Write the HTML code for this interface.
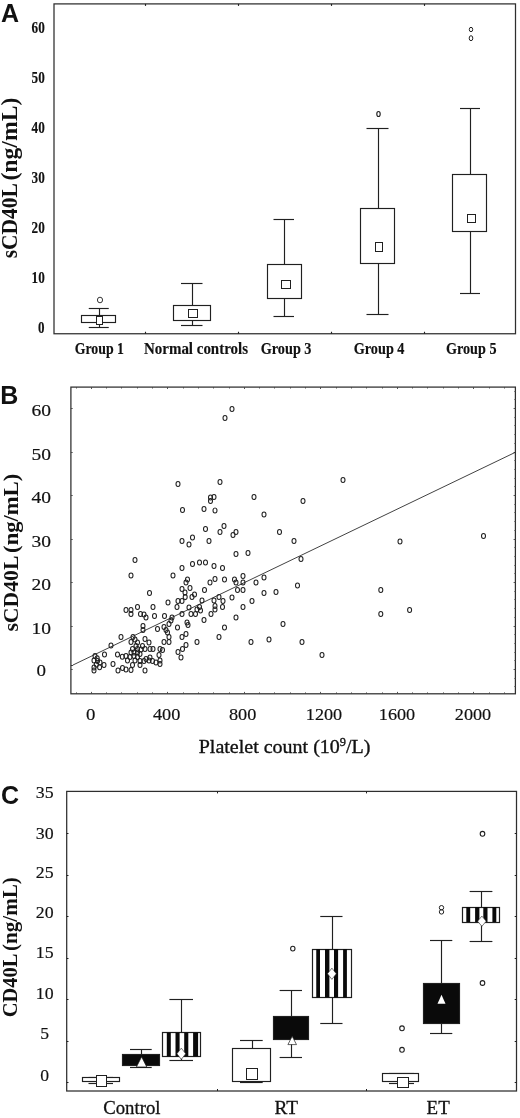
<!DOCTYPE html>
<html><head><meta charset="utf-8"><title>Figure</title>
<style>
html,body{margin:0;padding:0;background:#fff;}
body{width:520px;height:1118px;overflow:hidden;font-family:"Liberation Serif",serif;}
svg{display:block;will-change:transform;}
</style></head><body>
<svg width="520" height="1118" viewBox="0 0 520 1118">
<rect x="0" y="0" width="520" height="1118" fill="#ffffff"/>
<rect x="54.00" y="3.90" width="461.50" height="329.85" fill="none" stroke="#2e2e2e" stroke-width="1.25"/>
<text x="1.00" y="21.90" font-family="'Liberation Sans', sans-serif" font-size="25" font-weight="bold" text-anchor="start" letter-spacing="0" fill="#111" >A</text>
<text x="31.60" y="33.10" font-family="'Liberation Serif', serif" font-size="16.3" font-weight="bold" textLength="13.20" lengthAdjust="spacingAndGlyphs" fill="#111" stroke="#111" stroke-width="0.15">60</text>
<text x="31.60" y="83.10" font-family="'Liberation Serif', serif" font-size="16.3" font-weight="bold" textLength="13.20" lengthAdjust="spacingAndGlyphs" fill="#111" stroke="#111" stroke-width="0.15">50</text>
<text x="31.60" y="133.10" font-family="'Liberation Serif', serif" font-size="16.3" font-weight="bold" textLength="13.20" lengthAdjust="spacingAndGlyphs" fill="#111" stroke="#111" stroke-width="0.15">40</text>
<text x="31.60" y="183.10" font-family="'Liberation Serif', serif" font-size="16.3" font-weight="bold" textLength="13.20" lengthAdjust="spacingAndGlyphs" fill="#111" stroke="#111" stroke-width="0.15">30</text>
<text x="31.60" y="233.10" font-family="'Liberation Serif', serif" font-size="16.3" font-weight="bold" textLength="13.20" lengthAdjust="spacingAndGlyphs" fill="#111" stroke="#111" stroke-width="0.15">20</text>
<text x="31.60" y="283.10" font-family="'Liberation Serif', serif" font-size="16.3" font-weight="bold" textLength="13.20" lengthAdjust="spacingAndGlyphs" fill="#111" stroke="#111" stroke-width="0.15">10</text>
<text x="38.10" y="333.10" font-family="'Liberation Serif', serif" font-size="16.3" font-weight="bold" textLength="6.50" lengthAdjust="spacingAndGlyphs" fill="#111" stroke="#111" stroke-width="0.15">0</text>
<text transform="translate(16.50,258.30) rotate(-90)" font-family="'Liberation Serif', serif" font-size="22.5" font-weight="bold" textLength="75.10" lengthAdjust="spacingAndGlyphs" fill="#111">sCD40L</text>
<text transform="translate(16.50,180.60) rotate(-90)" font-family="'Liberation Serif', serif" font-size="22.5" font-weight="bold" textLength="83.00" lengthAdjust="spacingAndGlyphs" fill="#111">(ng/mL)</text>
<line x1="145.50" y1="331.75" x2="145.50" y2="333.75" stroke="#202020" stroke-width="1.15"/>
<line x1="145.50" y1="3.90" x2="145.50" y2="5.90" stroke="#202020" stroke-width="1.15"/>
<line x1="238.50" y1="331.75" x2="238.50" y2="333.75" stroke="#202020" stroke-width="1.15"/>
<line x1="238.50" y1="3.90" x2="238.50" y2="5.90" stroke="#202020" stroke-width="1.15"/>
<line x1="331.50" y1="331.75" x2="331.50" y2="333.75" stroke="#202020" stroke-width="1.15"/>
<line x1="331.50" y1="3.90" x2="331.50" y2="5.90" stroke="#202020" stroke-width="1.15"/>
<line x1="424.50" y1="331.75" x2="424.50" y2="333.75" stroke="#202020" stroke-width="1.15"/>
<line x1="424.50" y1="3.90" x2="424.50" y2="5.90" stroke="#202020" stroke-width="1.15"/>
<line x1="99.50" y1="308.75" x2="99.50" y2="315.00" stroke="#202020" stroke-width="1.15"/>
<line x1="99.50" y1="322.00" x2="99.50" y2="327.00" stroke="#202020" stroke-width="1.15"/>
<line x1="88.75" y1="308.50" x2="108.75" y2="308.50" stroke="#202020" stroke-width="1.15"/>
<line x1="88.75" y1="327.50" x2="108.75" y2="327.50" stroke="#202020" stroke-width="1.15"/>
<rect x="81.50" y="315.50" width="34.00" height="7.00" fill="#fff" stroke="#202020" stroke-width="1.15"/>
<rect x="96.50" y="316.50" width="6.00" height="8.00" fill="#fff" stroke="#202020" stroke-width="1.0"/>
<ellipse cx="100.00" cy="300.00" rx="2.6" ry="2.8" fill="none" stroke="#202020" stroke-width="0.9"/>
<line x1="192.50" y1="283.50" x2="192.50" y2="305.00" stroke="#202020" stroke-width="1.15"/>
<line x1="192.50" y1="320.00" x2="192.50" y2="325.50" stroke="#202020" stroke-width="1.15"/>
<line x1="181.00" y1="283.50" x2="202.50" y2="283.50" stroke="#202020" stroke-width="1.15"/>
<line x1="181.00" y1="325.50" x2="202.50" y2="325.50" stroke="#202020" stroke-width="1.15"/>
<rect x="173.50" y="305.50" width="37.00" height="15.00" fill="#fff" stroke="#202020" stroke-width="1.15"/>
<rect x="188.50" y="309.50" width="9.00" height="8.00" fill="#fff" stroke="#202020" stroke-width="1.0"/>
<line x1="284.50" y1="219.00" x2="284.50" y2="264.00" stroke="#202020" stroke-width="1.15"/>
<line x1="284.50" y1="298.50" x2="284.50" y2="316.00" stroke="#202020" stroke-width="1.15"/>
<line x1="273.50" y1="219.50" x2="294.00" y2="219.50" stroke="#202020" stroke-width="1.15"/>
<line x1="273.50" y1="316.50" x2="294.00" y2="316.50" stroke="#202020" stroke-width="1.15"/>
<rect x="267.50" y="264.50" width="34.00" height="34.00" fill="#fff" stroke="#202020" stroke-width="1.15"/>
<rect x="281.50" y="280.50" width="9.00" height="8.00" fill="#fff" stroke="#202020" stroke-width="1.0"/>
<line x1="378.50" y1="128.50" x2="378.50" y2="208.00" stroke="#202020" stroke-width="1.15"/>
<line x1="378.50" y1="263.00" x2="378.50" y2="314.50" stroke="#202020" stroke-width="1.15"/>
<line x1="366.50" y1="128.50" x2="388.50" y2="128.50" stroke="#202020" stroke-width="1.15"/>
<line x1="366.50" y1="314.50" x2="388.50" y2="314.50" stroke="#202020" stroke-width="1.15"/>
<rect x="360.50" y="208.50" width="34.00" height="55.00" fill="#fff" stroke="#202020" stroke-width="1.15"/>
<rect x="375.50" y="242.50" width="7.00" height="9.00" fill="#fff" stroke="#202020" stroke-width="1.0"/>
<ellipse cx="378.50" cy="114.00" rx="1.7" ry="2.5" fill="none" stroke="#202020" stroke-width="1.15"/>
<line x1="470.50" y1="108.50" x2="470.50" y2="174.00" stroke="#202020" stroke-width="1.15"/>
<line x1="470.50" y1="231.50" x2="470.50" y2="293.50" stroke="#202020" stroke-width="1.15"/>
<line x1="460.00" y1="108.50" x2="480.00" y2="108.50" stroke="#202020" stroke-width="1.15"/>
<line x1="460.00" y1="293.50" x2="480.00" y2="293.50" stroke="#202020" stroke-width="1.15"/>
<rect x="452.50" y="174.50" width="34.00" height="57.00" fill="#fff" stroke="#202020" stroke-width="1.15"/>
<rect x="467.50" y="214.50" width="8.00" height="8.00" fill="#fff" stroke="#202020" stroke-width="1.0"/>
<ellipse cx="471.00" cy="29.50" rx="1.7" ry="2.2" fill="none" stroke="#202020" stroke-width="1.0"/>
<ellipse cx="471.00" cy="38.20" rx="1.8" ry="2.5" fill="none" stroke="#202020" stroke-width="1.0"/>
<text x="74.70" y="354.20" font-family="'Liberation Serif', serif" font-size="16" font-weight="bold" textLength="49.30" lengthAdjust="spacingAndGlyphs" fill="#111" stroke="#111" stroke-width="0.15">Group 1</text>
<text x="144.00" y="354.20" font-family="'Liberation Serif', serif" font-size="16" font-weight="bold" textLength="104.00" lengthAdjust="spacingAndGlyphs" fill="#111" stroke="#111" stroke-width="0.15">Normal controls</text>
<text x="260.70" y="354.20" font-family="'Liberation Serif', serif" font-size="16" font-weight="bold" textLength="50.80" lengthAdjust="spacingAndGlyphs" fill="#111" stroke="#111" stroke-width="0.15">Group 3</text>
<text x="353.70" y="354.20" font-family="'Liberation Serif', serif" font-size="16" font-weight="bold" textLength="50.80" lengthAdjust="spacingAndGlyphs" fill="#111" stroke="#111" stroke-width="0.15">Group 4</text>
<text x="446.00" y="354.20" font-family="'Liberation Serif', serif" font-size="16" font-weight="bold" textLength="50.50" lengthAdjust="spacingAndGlyphs" fill="#111" stroke="#111" stroke-width="0.15">Group 5</text>
<rect x="70.90" y="387.10" width="444.50" height="306.70" fill="none" stroke="#2e2e2e" stroke-width="1.25"/>
<text x="0.20" y="403.75" font-family="'Liberation Sans', sans-serif" font-size="25" font-weight="bold" text-anchor="start" letter-spacing="0" fill="#111" >B</text>
<text x="31.50" y="416.00" font-family="'Liberation Serif', serif" font-size="17.5" font-weight="normal" textLength="19.50" lengthAdjust="spacingAndGlyphs" fill="#111" stroke="#111" stroke-width="0.18">60</text>
<line x1="70.90" y1="408.50" x2="72.70" y2="408.50" stroke="#444" stroke-width="0.9"/>
<line x1="513.60" y1="408.50" x2="515.40" y2="408.50" stroke="#444" stroke-width="0.9"/>
<text x="31.50" y="459.50" font-family="'Liberation Serif', serif" font-size="17.5" font-weight="normal" textLength="19.50" lengthAdjust="spacingAndGlyphs" fill="#111" stroke="#111" stroke-width="0.18">50</text>
<line x1="70.90" y1="452.50" x2="72.70" y2="452.50" stroke="#444" stroke-width="0.9"/>
<line x1="513.60" y1="452.50" x2="515.40" y2="452.50" stroke="#444" stroke-width="0.9"/>
<text x="31.50" y="503.00" font-family="'Liberation Serif', serif" font-size="17.5" font-weight="normal" textLength="19.50" lengthAdjust="spacingAndGlyphs" fill="#111" stroke="#111" stroke-width="0.18">40</text>
<line x1="70.90" y1="495.50" x2="72.70" y2="495.50" stroke="#444" stroke-width="0.9"/>
<line x1="513.60" y1="495.50" x2="515.40" y2="495.50" stroke="#444" stroke-width="0.9"/>
<text x="31.50" y="546.50" font-family="'Liberation Serif', serif" font-size="17.5" font-weight="normal" textLength="19.50" lengthAdjust="spacingAndGlyphs" fill="#111" stroke="#111" stroke-width="0.18">30</text>
<line x1="70.90" y1="539.50" x2="72.70" y2="539.50" stroke="#444" stroke-width="0.9"/>
<line x1="513.60" y1="539.50" x2="515.40" y2="539.50" stroke="#444" stroke-width="0.9"/>
<text x="31.50" y="590.00" font-family="'Liberation Serif', serif" font-size="17.5" font-weight="normal" textLength="19.50" lengthAdjust="spacingAndGlyphs" fill="#111" stroke="#111" stroke-width="0.18">20</text>
<line x1="70.90" y1="582.50" x2="72.70" y2="582.50" stroke="#444" stroke-width="0.9"/>
<line x1="513.60" y1="582.50" x2="515.40" y2="582.50" stroke="#444" stroke-width="0.9"/>
<text x="31.50" y="633.50" font-family="'Liberation Serif', serif" font-size="17.5" font-weight="normal" textLength="19.50" lengthAdjust="spacingAndGlyphs" fill="#111" stroke="#111" stroke-width="0.18">10</text>
<line x1="70.90" y1="626.50" x2="72.70" y2="626.50" stroke="#444" stroke-width="0.9"/>
<line x1="513.60" y1="626.50" x2="515.40" y2="626.50" stroke="#444" stroke-width="0.9"/>
<text x="36.40" y="676.10" font-family="'Liberation Serif', serif" font-size="17.5" font-weight="normal" textLength="9.50" lengthAdjust="spacingAndGlyphs" fill="#111" stroke="#111" stroke-width="0.18">0</text>
<line x1="70.90" y1="669.50" x2="72.70" y2="669.50" stroke="#444" stroke-width="0.9"/>
<line x1="513.60" y1="669.50" x2="515.40" y2="669.50" stroke="#444" stroke-width="0.9"/>
<line x1="514.20" y1="686.50" x2="515.40" y2="686.50" stroke="#555" stroke-width="0.8"/>
<line x1="514.20" y1="678.50" x2="515.40" y2="678.50" stroke="#555" stroke-width="0.8"/>
<line x1="514.20" y1="660.50" x2="515.40" y2="660.50" stroke="#555" stroke-width="0.8"/>
<line x1="514.20" y1="652.50" x2="515.40" y2="652.50" stroke="#555" stroke-width="0.8"/>
<line x1="514.20" y1="643.50" x2="515.40" y2="643.50" stroke="#555" stroke-width="0.8"/>
<line x1="514.20" y1="634.50" x2="515.40" y2="634.50" stroke="#555" stroke-width="0.8"/>
<line x1="514.20" y1="617.50" x2="515.40" y2="617.50" stroke="#555" stroke-width="0.8"/>
<line x1="514.20" y1="608.50" x2="515.40" y2="608.50" stroke="#555" stroke-width="0.8"/>
<line x1="514.20" y1="599.50" x2="515.40" y2="599.50" stroke="#555" stroke-width="0.8"/>
<line x1="514.20" y1="591.50" x2="515.40" y2="591.50" stroke="#555" stroke-width="0.8"/>
<line x1="514.20" y1="573.50" x2="515.40" y2="573.50" stroke="#555" stroke-width="0.8"/>
<line x1="514.20" y1="565.50" x2="515.40" y2="565.50" stroke="#555" stroke-width="0.8"/>
<line x1="514.20" y1="556.50" x2="515.40" y2="556.50" stroke="#555" stroke-width="0.8"/>
<line x1="514.20" y1="547.50" x2="515.40" y2="547.50" stroke="#555" stroke-width="0.8"/>
<line x1="514.20" y1="530.50" x2="515.40" y2="530.50" stroke="#555" stroke-width="0.8"/>
<line x1="514.20" y1="521.50" x2="515.40" y2="521.50" stroke="#555" stroke-width="0.8"/>
<line x1="514.20" y1="512.50" x2="515.40" y2="512.50" stroke="#555" stroke-width="0.8"/>
<line x1="514.20" y1="504.50" x2="515.40" y2="504.50" stroke="#555" stroke-width="0.8"/>
<line x1="514.20" y1="486.50" x2="515.40" y2="486.50" stroke="#555" stroke-width="0.8"/>
<line x1="514.20" y1="478.50" x2="515.40" y2="478.50" stroke="#555" stroke-width="0.8"/>
<line x1="514.20" y1="469.50" x2="515.40" y2="469.50" stroke="#555" stroke-width="0.8"/>
<line x1="514.20" y1="460.50" x2="515.40" y2="460.50" stroke="#555" stroke-width="0.8"/>
<line x1="514.20" y1="443.50" x2="515.40" y2="443.50" stroke="#555" stroke-width="0.8"/>
<line x1="514.20" y1="434.50" x2="515.40" y2="434.50" stroke="#555" stroke-width="0.8"/>
<line x1="514.20" y1="425.50" x2="515.40" y2="425.50" stroke="#555" stroke-width="0.8"/>
<line x1="514.20" y1="417.50" x2="515.40" y2="417.50" stroke="#555" stroke-width="0.8"/>
<line x1="514.20" y1="399.50" x2="515.40" y2="399.50" stroke="#555" stroke-width="0.8"/>
<line x1="514.20" y1="391.50" x2="515.40" y2="391.50" stroke="#555" stroke-width="0.8"/>
<text transform="translate(17.50,631.60) rotate(-90)" font-family="'Liberation Serif', serif" font-size="22" font-weight="bold" textLength="76.00" lengthAdjust="spacingAndGlyphs" fill="#111">sCD40L</text>
<text transform="translate(17.50,552.90) rotate(-90)" font-family="'Liberation Serif', serif" font-size="22" font-weight="bold" textLength="79.10" lengthAdjust="spacingAndGlyphs" fill="#111">(ng/mL)</text>
<line x1="91.50" y1="691.90" x2="91.50" y2="693.80" stroke="#444" stroke-width="0.9"/>
<line x1="91.50" y1="387.10" x2="91.50" y2="389.00" stroke="#444" stroke-width="0.9"/>
<line x1="106.50" y1="692.40" x2="106.50" y2="693.80" stroke="#444" stroke-width="0.9"/>
<line x1="106.50" y1="387.10" x2="106.50" y2="388.50" stroke="#444" stroke-width="0.9"/>
<line x1="121.50" y1="692.40" x2="121.50" y2="693.80" stroke="#444" stroke-width="0.9"/>
<line x1="121.50" y1="387.10" x2="121.50" y2="388.50" stroke="#444" stroke-width="0.9"/>
<line x1="137.50" y1="692.40" x2="137.50" y2="693.80" stroke="#444" stroke-width="0.9"/>
<line x1="137.50" y1="387.10" x2="137.50" y2="388.50" stroke="#444" stroke-width="0.9"/>
<line x1="152.50" y1="692.40" x2="152.50" y2="693.80" stroke="#444" stroke-width="0.9"/>
<line x1="152.50" y1="387.10" x2="152.50" y2="388.50" stroke="#444" stroke-width="0.9"/>
<line x1="167.50" y1="691.90" x2="167.50" y2="693.80" stroke="#444" stroke-width="0.9"/>
<line x1="167.50" y1="387.10" x2="167.50" y2="389.00" stroke="#444" stroke-width="0.9"/>
<line x1="183.50" y1="692.40" x2="183.50" y2="693.80" stroke="#444" stroke-width="0.9"/>
<line x1="183.50" y1="387.10" x2="183.50" y2="388.50" stroke="#444" stroke-width="0.9"/>
<line x1="198.50" y1="692.40" x2="198.50" y2="693.80" stroke="#444" stroke-width="0.9"/>
<line x1="198.50" y1="387.10" x2="198.50" y2="388.50" stroke="#444" stroke-width="0.9"/>
<line x1="213.50" y1="692.40" x2="213.50" y2="693.80" stroke="#444" stroke-width="0.9"/>
<line x1="213.50" y1="387.10" x2="213.50" y2="388.50" stroke="#444" stroke-width="0.9"/>
<line x1="229.50" y1="692.40" x2="229.50" y2="693.80" stroke="#444" stroke-width="0.9"/>
<line x1="229.50" y1="387.10" x2="229.50" y2="388.50" stroke="#444" stroke-width="0.9"/>
<line x1="244.50" y1="691.90" x2="244.50" y2="693.80" stroke="#444" stroke-width="0.9"/>
<line x1="244.50" y1="387.10" x2="244.50" y2="389.00" stroke="#444" stroke-width="0.9"/>
<line x1="259.50" y1="692.40" x2="259.50" y2="693.80" stroke="#444" stroke-width="0.9"/>
<line x1="259.50" y1="387.10" x2="259.50" y2="388.50" stroke="#444" stroke-width="0.9"/>
<line x1="274.50" y1="692.40" x2="274.50" y2="693.80" stroke="#444" stroke-width="0.9"/>
<line x1="274.50" y1="387.10" x2="274.50" y2="388.50" stroke="#444" stroke-width="0.9"/>
<line x1="290.50" y1="692.40" x2="290.50" y2="693.80" stroke="#444" stroke-width="0.9"/>
<line x1="290.50" y1="387.10" x2="290.50" y2="388.50" stroke="#444" stroke-width="0.9"/>
<line x1="305.50" y1="692.40" x2="305.50" y2="693.80" stroke="#444" stroke-width="0.9"/>
<line x1="305.50" y1="387.10" x2="305.50" y2="388.50" stroke="#444" stroke-width="0.9"/>
<line x1="320.50" y1="691.90" x2="320.50" y2="693.80" stroke="#444" stroke-width="0.9"/>
<line x1="320.50" y1="387.10" x2="320.50" y2="389.00" stroke="#444" stroke-width="0.9"/>
<line x1="336.50" y1="692.40" x2="336.50" y2="693.80" stroke="#444" stroke-width="0.9"/>
<line x1="336.50" y1="387.10" x2="336.50" y2="388.50" stroke="#444" stroke-width="0.9"/>
<line x1="351.50" y1="692.40" x2="351.50" y2="693.80" stroke="#444" stroke-width="0.9"/>
<line x1="351.50" y1="387.10" x2="351.50" y2="388.50" stroke="#444" stroke-width="0.9"/>
<line x1="366.50" y1="692.40" x2="366.50" y2="693.80" stroke="#444" stroke-width="0.9"/>
<line x1="366.50" y1="387.10" x2="366.50" y2="388.50" stroke="#444" stroke-width="0.9"/>
<line x1="382.50" y1="692.40" x2="382.50" y2="693.80" stroke="#444" stroke-width="0.9"/>
<line x1="382.50" y1="387.10" x2="382.50" y2="388.50" stroke="#444" stroke-width="0.9"/>
<line x1="397.50" y1="691.90" x2="397.50" y2="693.80" stroke="#444" stroke-width="0.9"/>
<line x1="397.50" y1="387.10" x2="397.50" y2="389.00" stroke="#444" stroke-width="0.9"/>
<line x1="412.50" y1="692.40" x2="412.50" y2="693.80" stroke="#444" stroke-width="0.9"/>
<line x1="412.50" y1="387.10" x2="412.50" y2="388.50" stroke="#444" stroke-width="0.9"/>
<line x1="427.50" y1="692.40" x2="427.50" y2="693.80" stroke="#444" stroke-width="0.9"/>
<line x1="427.50" y1="387.10" x2="427.50" y2="388.50" stroke="#444" stroke-width="0.9"/>
<line x1="443.50" y1="692.40" x2="443.50" y2="693.80" stroke="#444" stroke-width="0.9"/>
<line x1="443.50" y1="387.10" x2="443.50" y2="388.50" stroke="#444" stroke-width="0.9"/>
<line x1="458.50" y1="692.40" x2="458.50" y2="693.80" stroke="#444" stroke-width="0.9"/>
<line x1="458.50" y1="387.10" x2="458.50" y2="388.50" stroke="#444" stroke-width="0.9"/>
<line x1="473.50" y1="691.90" x2="473.50" y2="693.80" stroke="#444" stroke-width="0.9"/>
<line x1="473.50" y1="387.10" x2="473.50" y2="389.00" stroke="#444" stroke-width="0.9"/>
<line x1="489.50" y1="692.40" x2="489.50" y2="693.80" stroke="#444" stroke-width="0.9"/>
<line x1="489.50" y1="387.10" x2="489.50" y2="388.50" stroke="#444" stroke-width="0.9"/>
<line x1="504.50" y1="692.40" x2="504.50" y2="693.80" stroke="#444" stroke-width="0.9"/>
<line x1="504.50" y1="387.10" x2="504.50" y2="388.50" stroke="#444" stroke-width="0.9"/>
<line x1="76.50" y1="692.40" x2="76.50" y2="693.80" stroke="#444" stroke-width="0.9"/>
<line x1="76.50" y1="387.10" x2="76.50" y2="388.50" stroke="#444" stroke-width="0.9"/>
<text x="85.90" y="719.90" font-family="'Liberation Serif', serif" font-size="17.5" font-weight="normal" textLength="9.40" lengthAdjust="spacingAndGlyphs" fill="#111" stroke="#111" stroke-width="0.18">0</text>
<text x="152.90" y="719.90" font-family="'Liberation Serif', serif" font-size="17.5" font-weight="normal" textLength="27.40" lengthAdjust="spacingAndGlyphs" fill="#111" stroke="#111" stroke-width="0.18">400</text>
<text x="228.90" y="719.90" font-family="'Liberation Serif', serif" font-size="17.5" font-weight="normal" textLength="27.40" lengthAdjust="spacingAndGlyphs" fill="#111" stroke="#111" stroke-width="0.18">800</text>
<text x="305.80" y="719.90" font-family="'Liberation Serif', serif" font-size="17.5" font-weight="normal" textLength="36.40" lengthAdjust="spacingAndGlyphs" fill="#111" stroke="#111" stroke-width="0.18">1200</text>
<text x="378.80" y="719.90" font-family="'Liberation Serif', serif" font-size="17.5" font-weight="normal" textLength="36.40" lengthAdjust="spacingAndGlyphs" fill="#111" stroke="#111" stroke-width="0.18">1600</text>
<text x="454.80" y="719.90" font-family="'Liberation Serif', serif" font-size="17.5" font-weight="normal" textLength="36.40" lengthAdjust="spacingAndGlyphs" fill="#111" stroke="#111" stroke-width="0.18">2000</text>
<text x="198.70" y="752.50" font-family="'Liberation Serif', serif" font-size="19.5" font-weight="normal" textLength="171.80" lengthAdjust="spacingAndGlyphs" fill="#111" stroke="#111" stroke-width="0.35">Platelet count (10<tspan dy="-6.5" font-size="12">9</tspan><tspan dy="6.5">/L)</tspan></text>
<line x1="73.00" y1="665.00" x2="515.40" y2="452.30" stroke="#202020" stroke-width="0.85"/>
<line x1="70.90" y1="665.50" x2="73.00" y2="665.50" stroke="#202020" stroke-width="0.85"/>
<ellipse cx="149.50" cy="593.00" rx="2.0" ry="2.5" fill="none" stroke="#202020" stroke-width="1.05"/>
<ellipse cx="185.00" cy="592.50" rx="2.0" ry="2.5" fill="none" stroke="#202020" stroke-width="1.05"/>
<ellipse cx="168.00" cy="602.50" rx="2.0" ry="2.5" fill="none" stroke="#202020" stroke-width="1.05"/>
<ellipse cx="178.00" cy="601.00" rx="2.0" ry="2.5" fill="none" stroke="#202020" stroke-width="1.05"/>
<ellipse cx="182.00" cy="601.00" rx="2.0" ry="2.5" fill="none" stroke="#202020" stroke-width="1.05"/>
<ellipse cx="177.00" cy="607.00" rx="2.0" ry="2.5" fill="none" stroke="#202020" stroke-width="1.05"/>
<ellipse cx="137.50" cy="607.00" rx="2.0" ry="2.5" fill="none" stroke="#202020" stroke-width="1.05"/>
<ellipse cx="153.00" cy="607.00" rx="2.0" ry="2.5" fill="none" stroke="#202020" stroke-width="1.05"/>
<ellipse cx="126.00" cy="610.00" rx="2.0" ry="2.5" fill="none" stroke="#202020" stroke-width="1.05"/>
<ellipse cx="131.00" cy="610.00" rx="2.0" ry="2.5" fill="none" stroke="#202020" stroke-width="1.05"/>
<ellipse cx="131.00" cy="614.00" rx="2.0" ry="2.5" fill="none" stroke="#202020" stroke-width="1.05"/>
<ellipse cx="140.50" cy="614.00" rx="2.0" ry="2.5" fill="none" stroke="#202020" stroke-width="1.05"/>
<ellipse cx="144.00" cy="614.50" rx="2.0" ry="2.5" fill="none" stroke="#202020" stroke-width="1.05"/>
<ellipse cx="146.00" cy="617.50" rx="2.0" ry="2.5" fill="none" stroke="#202020" stroke-width="1.05"/>
<ellipse cx="154.50" cy="616.00" rx="2.0" ry="2.5" fill="none" stroke="#202020" stroke-width="1.05"/>
<ellipse cx="164.50" cy="616.00" rx="2.0" ry="2.5" fill="none" stroke="#202020" stroke-width="1.05"/>
<ellipse cx="182.00" cy="614.00" rx="2.0" ry="2.5" fill="none" stroke="#202020" stroke-width="1.05"/>
<ellipse cx="189.00" cy="607.50" rx="2.0" ry="2.5" fill="none" stroke="#202020" stroke-width="1.05"/>
<ellipse cx="172.00" cy="617.50" rx="2.0" ry="2.5" fill="none" stroke="#202020" stroke-width="1.05"/>
<ellipse cx="171.00" cy="620.50" rx="2.0" ry="2.5" fill="none" stroke="#202020" stroke-width="1.05"/>
<ellipse cx="169.00" cy="624.00" rx="2.0" ry="2.5" fill="none" stroke="#202020" stroke-width="1.05"/>
<ellipse cx="187.00" cy="622.50" rx="2.0" ry="2.5" fill="none" stroke="#202020" stroke-width="1.05"/>
<ellipse cx="188.00" cy="625.00" rx="2.0" ry="2.5" fill="none" stroke="#202020" stroke-width="1.05"/>
<ellipse cx="143.00" cy="626.00" rx="2.0" ry="2.5" fill="none" stroke="#202020" stroke-width="1.05"/>
<ellipse cx="143.00" cy="630.00" rx="2.0" ry="2.5" fill="none" stroke="#202020" stroke-width="1.05"/>
<ellipse cx="164.00" cy="627.00" rx="2.0" ry="2.5" fill="none" stroke="#202020" stroke-width="1.05"/>
<ellipse cx="166.00" cy="630.00" rx="2.0" ry="2.5" fill="none" stroke="#202020" stroke-width="1.05"/>
<ellipse cx="157.50" cy="629.00" rx="2.0" ry="2.5" fill="none" stroke="#202020" stroke-width="1.05"/>
<ellipse cx="177.50" cy="627.50" rx="2.0" ry="2.5" fill="none" stroke="#202020" stroke-width="1.05"/>
<ellipse cx="167.50" cy="632.50" rx="2.0" ry="2.5" fill="none" stroke="#202020" stroke-width="1.05"/>
<ellipse cx="169.00" cy="637.00" rx="2.0" ry="2.5" fill="none" stroke="#202020" stroke-width="1.05"/>
<ellipse cx="182.00" cy="637.00" rx="2.0" ry="2.5" fill="none" stroke="#202020" stroke-width="1.05"/>
<ellipse cx="186.00" cy="634.00" rx="2.0" ry="2.5" fill="none" stroke="#202020" stroke-width="1.05"/>
<ellipse cx="121.00" cy="637.00" rx="2.0" ry="2.5" fill="none" stroke="#202020" stroke-width="1.05"/>
<ellipse cx="133.00" cy="637.00" rx="2.0" ry="2.5" fill="none" stroke="#202020" stroke-width="1.05"/>
<ellipse cx="135.00" cy="639.50" rx="2.0" ry="2.5" fill="none" stroke="#202020" stroke-width="1.05"/>
<ellipse cx="131.00" cy="642.00" rx="2.0" ry="2.5" fill="none" stroke="#202020" stroke-width="1.05"/>
<ellipse cx="137.50" cy="642.50" rx="2.0" ry="2.5" fill="none" stroke="#202020" stroke-width="1.05"/>
<ellipse cx="145.00" cy="639.00" rx="2.0" ry="2.5" fill="none" stroke="#202020" stroke-width="1.05"/>
<ellipse cx="149.00" cy="642.50" rx="2.0" ry="2.5" fill="none" stroke="#202020" stroke-width="1.05"/>
<ellipse cx="164.00" cy="642.00" rx="2.0" ry="2.5" fill="none" stroke="#202020" stroke-width="1.05"/>
<ellipse cx="169.00" cy="642.00" rx="2.0" ry="2.5" fill="none" stroke="#202020" stroke-width="1.05"/>
<ellipse cx="111.00" cy="645.50" rx="2.0" ry="2.5" fill="none" stroke="#202020" stroke-width="1.05"/>
<ellipse cx="136.00" cy="646.00" rx="2.0" ry="2.5" fill="none" stroke="#202020" stroke-width="1.05"/>
<ellipse cx="142.50" cy="646.00" rx="2.0" ry="2.5" fill="none" stroke="#202020" stroke-width="1.05"/>
<ellipse cx="132.50" cy="649.00" rx="2.0" ry="2.5" fill="none" stroke="#202020" stroke-width="1.05"/>
<ellipse cx="137.50" cy="649.00" rx="2.0" ry="2.5" fill="none" stroke="#202020" stroke-width="1.05"/>
<ellipse cx="141.00" cy="649.50" rx="2.0" ry="2.5" fill="none" stroke="#202020" stroke-width="1.05"/>
<ellipse cx="145.00" cy="649.00" rx="2.0" ry="2.5" fill="none" stroke="#202020" stroke-width="1.05"/>
<ellipse cx="150.00" cy="649.00" rx="2.0" ry="2.5" fill="none" stroke="#202020" stroke-width="1.05"/>
<ellipse cx="153.00" cy="649.00" rx="2.0" ry="2.5" fill="none" stroke="#202020" stroke-width="1.05"/>
<ellipse cx="160.00" cy="649.00" rx="2.0" ry="2.5" fill="none" stroke="#202020" stroke-width="1.05"/>
<ellipse cx="162.50" cy="650.00" rx="2.0" ry="2.5" fill="none" stroke="#202020" stroke-width="1.05"/>
<ellipse cx="186.00" cy="645.00" rx="2.0" ry="2.5" fill="none" stroke="#202020" stroke-width="1.05"/>
<ellipse cx="182.50" cy="649.00" rx="2.0" ry="2.5" fill="none" stroke="#202020" stroke-width="1.05"/>
<ellipse cx="178.00" cy="652.00" rx="2.0" ry="2.5" fill="none" stroke="#202020" stroke-width="1.05"/>
<ellipse cx="181.00" cy="657.50" rx="2.0" ry="2.5" fill="none" stroke="#202020" stroke-width="1.05"/>
<ellipse cx="95.00" cy="656.00" rx="2.0" ry="2.5" fill="none" stroke="#202020" stroke-width="1.05"/>
<ellipse cx="104.50" cy="654.50" rx="2.0" ry="2.5" fill="none" stroke="#202020" stroke-width="1.05"/>
<ellipse cx="117.50" cy="654.50" rx="2.0" ry="2.5" fill="none" stroke="#202020" stroke-width="1.05"/>
<ellipse cx="131.00" cy="652.50" rx="2.0" ry="2.5" fill="none" stroke="#202020" stroke-width="1.05"/>
<ellipse cx="134.00" cy="652.50" rx="2.0" ry="2.5" fill="none" stroke="#202020" stroke-width="1.05"/>
<ellipse cx="137.50" cy="652.50" rx="2.0" ry="2.5" fill="none" stroke="#202020" stroke-width="1.05"/>
<ellipse cx="140.00" cy="654.00" rx="2.0" ry="2.5" fill="none" stroke="#202020" stroke-width="1.05"/>
<ellipse cx="126.00" cy="656.00" rx="2.0" ry="2.5" fill="none" stroke="#202020" stroke-width="1.05"/>
<ellipse cx="130.00" cy="657.00" rx="2.0" ry="2.5" fill="none" stroke="#202020" stroke-width="1.05"/>
<ellipse cx="134.00" cy="656.00" rx="2.0" ry="2.5" fill="none" stroke="#202020" stroke-width="1.05"/>
<ellipse cx="137.50" cy="657.00" rx="2.0" ry="2.5" fill="none" stroke="#202020" stroke-width="1.05"/>
<ellipse cx="159.00" cy="655.00" rx="2.0" ry="2.5" fill="none" stroke="#202020" stroke-width="1.05"/>
<ellipse cx="150.00" cy="657.50" rx="2.0" ry="2.5" fill="none" stroke="#202020" stroke-width="1.05"/>
<ellipse cx="146.00" cy="659.00" rx="2.0" ry="2.5" fill="none" stroke="#202020" stroke-width="1.05"/>
<ellipse cx="94.00" cy="660.50" rx="2.0" ry="2.5" fill="none" stroke="#202020" stroke-width="1.05"/>
<ellipse cx="97.50" cy="661.00" rx="2.0" ry="2.5" fill="none" stroke="#202020" stroke-width="1.05"/>
<ellipse cx="100.00" cy="662.50" rx="2.0" ry="2.5" fill="none" stroke="#202020" stroke-width="1.05"/>
<ellipse cx="127.50" cy="660.50" rx="2.0" ry="2.5" fill="none" stroke="#202020" stroke-width="1.05"/>
<ellipse cx="135.00" cy="660.50" rx="2.0" ry="2.5" fill="none" stroke="#202020" stroke-width="1.05"/>
<ellipse cx="140.00" cy="661.00" rx="2.0" ry="2.5" fill="none" stroke="#202020" stroke-width="1.05"/>
<ellipse cx="144.00" cy="661.00" rx="2.0" ry="2.5" fill="none" stroke="#202020" stroke-width="1.05"/>
<ellipse cx="149.00" cy="660.50" rx="2.0" ry="2.5" fill="none" stroke="#202020" stroke-width="1.05"/>
<ellipse cx="152.50" cy="661.00" rx="2.0" ry="2.5" fill="none" stroke="#202020" stroke-width="1.05"/>
<ellipse cx="156.00" cy="662.50" rx="2.0" ry="2.5" fill="none" stroke="#202020" stroke-width="1.05"/>
<ellipse cx="160.00" cy="660.50" rx="2.0" ry="2.5" fill="none" stroke="#202020" stroke-width="1.05"/>
<ellipse cx="113.00" cy="664.00" rx="2.0" ry="2.5" fill="none" stroke="#202020" stroke-width="1.05"/>
<ellipse cx="160.00" cy="664.00" rx="2.0" ry="2.5" fill="none" stroke="#202020" stroke-width="1.05"/>
<ellipse cx="104.00" cy="665.00" rx="2.0" ry="2.5" fill="none" stroke="#202020" stroke-width="1.05"/>
<ellipse cx="132.50" cy="665.00" rx="2.0" ry="2.5" fill="none" stroke="#202020" stroke-width="1.05"/>
<ellipse cx="140.00" cy="665.00" rx="2.0" ry="2.5" fill="none" stroke="#202020" stroke-width="1.05"/>
<ellipse cx="94.00" cy="667.50" rx="2.0" ry="2.5" fill="none" stroke="#202020" stroke-width="1.05"/>
<ellipse cx="94.00" cy="670.50" rx="2.0" ry="2.5" fill="none" stroke="#202020" stroke-width="1.05"/>
<ellipse cx="122.50" cy="668.00" rx="2.0" ry="2.5" fill="none" stroke="#202020" stroke-width="1.05"/>
<ellipse cx="126.00" cy="669.50" rx="2.0" ry="2.5" fill="none" stroke="#202020" stroke-width="1.05"/>
<ellipse cx="131.00" cy="670.00" rx="2.0" ry="2.5" fill="none" stroke="#202020" stroke-width="1.05"/>
<ellipse cx="118.00" cy="670.50" rx="2.0" ry="2.5" fill="none" stroke="#202020" stroke-width="1.05"/>
<ellipse cx="145.00" cy="670.50" rx="2.0" ry="2.5" fill="none" stroke="#202020" stroke-width="1.05"/>
<ellipse cx="204.50" cy="590.00" rx="2.0" ry="2.5" fill="none" stroke="#202020" stroke-width="1.05"/>
<ellipse cx="237.50" cy="590.00" rx="2.0" ry="2.5" fill="none" stroke="#202020" stroke-width="1.05"/>
<ellipse cx="243.00" cy="590.00" rx="2.0" ry="2.5" fill="none" stroke="#202020" stroke-width="1.05"/>
<ellipse cx="264.00" cy="593.00" rx="2.0" ry="2.5" fill="none" stroke="#202020" stroke-width="1.05"/>
<ellipse cx="276.00" cy="592.00" rx="2.0" ry="2.5" fill="none" stroke="#202020" stroke-width="1.05"/>
<ellipse cx="194.50" cy="594.50" rx="2.0" ry="2.5" fill="none" stroke="#202020" stroke-width="1.05"/>
<ellipse cx="192.00" cy="597.00" rx="2.0" ry="2.5" fill="none" stroke="#202020" stroke-width="1.05"/>
<ellipse cx="219.00" cy="597.00" rx="2.0" ry="2.5" fill="none" stroke="#202020" stroke-width="1.05"/>
<ellipse cx="214.00" cy="600.50" rx="2.0" ry="2.5" fill="none" stroke="#202020" stroke-width="1.05"/>
<ellipse cx="223.00" cy="601.00" rx="2.0" ry="2.5" fill="none" stroke="#202020" stroke-width="1.05"/>
<ellipse cx="232.00" cy="597.50" rx="2.0" ry="2.5" fill="none" stroke="#202020" stroke-width="1.05"/>
<ellipse cx="252.00" cy="601.00" rx="2.0" ry="2.5" fill="none" stroke="#202020" stroke-width="1.05"/>
<ellipse cx="202.00" cy="600.50" rx="2.0" ry="2.5" fill="none" stroke="#202020" stroke-width="1.05"/>
<ellipse cx="215.00" cy="606.00" rx="2.0" ry="2.5" fill="none" stroke="#202020" stroke-width="1.05"/>
<ellipse cx="215.00" cy="609.50" rx="2.0" ry="2.5" fill="none" stroke="#202020" stroke-width="1.05"/>
<ellipse cx="222.50" cy="607.00" rx="2.0" ry="2.5" fill="none" stroke="#202020" stroke-width="1.05"/>
<ellipse cx="243.00" cy="607.00" rx="2.0" ry="2.5" fill="none" stroke="#202020" stroke-width="1.05"/>
<ellipse cx="199.50" cy="607.00" rx="2.0" ry="2.5" fill="none" stroke="#202020" stroke-width="1.05"/>
<ellipse cx="200.50" cy="610.50" rx="2.0" ry="2.5" fill="none" stroke="#202020" stroke-width="1.05"/>
<ellipse cx="197.00" cy="609.50" rx="2.0" ry="2.5" fill="none" stroke="#202020" stroke-width="1.05"/>
<ellipse cx="191.00" cy="614.00" rx="2.0" ry="2.5" fill="none" stroke="#202020" stroke-width="1.05"/>
<ellipse cx="195.50" cy="614.00" rx="2.0" ry="2.5" fill="none" stroke="#202020" stroke-width="1.05"/>
<ellipse cx="211.00" cy="614.00" rx="2.0" ry="2.5" fill="none" stroke="#202020" stroke-width="1.05"/>
<ellipse cx="204.00" cy="620.00" rx="2.0" ry="2.5" fill="none" stroke="#202020" stroke-width="1.05"/>
<ellipse cx="236.00" cy="617.50" rx="2.0" ry="2.5" fill="none" stroke="#202020" stroke-width="1.05"/>
<ellipse cx="283.00" cy="624.00" rx="2.0" ry="2.5" fill="none" stroke="#202020" stroke-width="1.05"/>
<ellipse cx="224.50" cy="627.50" rx="2.0" ry="2.5" fill="none" stroke="#202020" stroke-width="1.05"/>
<ellipse cx="219.00" cy="637.00" rx="2.0" ry="2.5" fill="none" stroke="#202020" stroke-width="1.05"/>
<ellipse cx="197.00" cy="642.00" rx="2.0" ry="2.5" fill="none" stroke="#202020" stroke-width="1.05"/>
<ellipse cx="251.00" cy="642.00" rx="2.0" ry="2.5" fill="none" stroke="#202020" stroke-width="1.05"/>
<ellipse cx="269.00" cy="639.50" rx="2.0" ry="2.5" fill="none" stroke="#202020" stroke-width="1.05"/>
<ellipse cx="302.00" cy="642.00" rx="2.0" ry="2.5" fill="none" stroke="#202020" stroke-width="1.05"/>
<ellipse cx="322.00" cy="655.00" rx="2.0" ry="2.5" fill="none" stroke="#202020" stroke-width="1.05"/>
<ellipse cx="380.80" cy="590.00" rx="2.0" ry="2.5" fill="none" stroke="#202020" stroke-width="1.05"/>
<ellipse cx="380.80" cy="614.00" rx="2.0" ry="2.5" fill="none" stroke="#202020" stroke-width="1.05"/>
<ellipse cx="409.60" cy="610.00" rx="2.0" ry="2.5" fill="none" stroke="#202020" stroke-width="1.05"/>
<ellipse cx="178.00" cy="484.00" rx="2.0" ry="2.5" fill="none" stroke="#202020" stroke-width="1.05"/>
<ellipse cx="182.50" cy="510.00" rx="2.0" ry="2.5" fill="none" stroke="#202020" stroke-width="1.05"/>
<ellipse cx="182.00" cy="541.00" rx="2.0" ry="2.5" fill="none" stroke="#202020" stroke-width="1.05"/>
<ellipse cx="189.00" cy="544.50" rx="2.0" ry="2.5" fill="none" stroke="#202020" stroke-width="1.05"/>
<ellipse cx="135.00" cy="560.00" rx="2.0" ry="2.5" fill="none" stroke="#202020" stroke-width="1.05"/>
<ellipse cx="131.00" cy="575.50" rx="2.0" ry="2.5" fill="none" stroke="#202020" stroke-width="1.05"/>
<ellipse cx="182.00" cy="568.00" rx="2.0" ry="2.5" fill="none" stroke="#202020" stroke-width="1.05"/>
<ellipse cx="173.00" cy="575.50" rx="2.0" ry="2.5" fill="none" stroke="#202020" stroke-width="1.05"/>
<ellipse cx="187.50" cy="579.50" rx="2.0" ry="2.5" fill="none" stroke="#202020" stroke-width="1.05"/>
<ellipse cx="186.00" cy="582.50" rx="2.0" ry="2.5" fill="none" stroke="#202020" stroke-width="1.05"/>
<ellipse cx="182.00" cy="589.00" rx="2.0" ry="2.5" fill="none" stroke="#202020" stroke-width="1.05"/>
<ellipse cx="190.00" cy="588.00" rx="2.0" ry="2.5" fill="none" stroke="#202020" stroke-width="1.05"/>
<ellipse cx="220.00" cy="482.00" rx="2.0" ry="2.5" fill="none" stroke="#202020" stroke-width="1.05"/>
<ellipse cx="210.50" cy="497.50" rx="2.0" ry="2.5" fill="none" stroke="#202020" stroke-width="1.05"/>
<ellipse cx="214.00" cy="497.00" rx="2.0" ry="2.5" fill="none" stroke="#202020" stroke-width="1.05"/>
<ellipse cx="210.50" cy="501.00" rx="2.0" ry="2.5" fill="none" stroke="#202020" stroke-width="1.05"/>
<ellipse cx="254.00" cy="497.00" rx="2.0" ry="2.5" fill="none" stroke="#202020" stroke-width="1.05"/>
<ellipse cx="303.00" cy="501.00" rx="2.0" ry="2.5" fill="none" stroke="#202020" stroke-width="1.05"/>
<ellipse cx="204.00" cy="509.00" rx="2.0" ry="2.5" fill="none" stroke="#202020" stroke-width="1.05"/>
<ellipse cx="215.00" cy="510.50" rx="2.0" ry="2.5" fill="none" stroke="#202020" stroke-width="1.05"/>
<ellipse cx="264.00" cy="514.50" rx="2.0" ry="2.5" fill="none" stroke="#202020" stroke-width="1.05"/>
<ellipse cx="224.00" cy="526.00" rx="2.0" ry="2.5" fill="none" stroke="#202020" stroke-width="1.05"/>
<ellipse cx="205.50" cy="529.00" rx="2.0" ry="2.5" fill="none" stroke="#202020" stroke-width="1.05"/>
<ellipse cx="220.00" cy="532.00" rx="2.0" ry="2.5" fill="none" stroke="#202020" stroke-width="1.05"/>
<ellipse cx="236.00" cy="532.00" rx="2.0" ry="2.5" fill="none" stroke="#202020" stroke-width="1.05"/>
<ellipse cx="233.00" cy="535.00" rx="2.0" ry="2.5" fill="none" stroke="#202020" stroke-width="1.05"/>
<ellipse cx="279.50" cy="532.00" rx="2.0" ry="2.5" fill="none" stroke="#202020" stroke-width="1.05"/>
<ellipse cx="192.50" cy="537.50" rx="2.0" ry="2.5" fill="none" stroke="#202020" stroke-width="1.05"/>
<ellipse cx="209.00" cy="541.00" rx="2.0" ry="2.5" fill="none" stroke="#202020" stroke-width="1.05"/>
<ellipse cx="294.00" cy="541.00" rx="2.0" ry="2.5" fill="none" stroke="#202020" stroke-width="1.05"/>
<ellipse cx="236.00" cy="554.00" rx="2.0" ry="2.5" fill="none" stroke="#202020" stroke-width="1.05"/>
<ellipse cx="248.00" cy="553.00" rx="2.0" ry="2.5" fill="none" stroke="#202020" stroke-width="1.05"/>
<ellipse cx="301.00" cy="559.00" rx="2.0" ry="2.5" fill="none" stroke="#202020" stroke-width="1.05"/>
<ellipse cx="192.50" cy="564.00" rx="2.0" ry="2.5" fill="none" stroke="#202020" stroke-width="1.05"/>
<ellipse cx="199.50" cy="562.50" rx="2.0" ry="2.5" fill="none" stroke="#202020" stroke-width="1.05"/>
<ellipse cx="205.50" cy="562.50" rx="2.0" ry="2.5" fill="none" stroke="#202020" stroke-width="1.05"/>
<ellipse cx="214.00" cy="566.00" rx="2.0" ry="2.5" fill="none" stroke="#202020" stroke-width="1.05"/>
<ellipse cx="222.50" cy="568.00" rx="2.0" ry="2.5" fill="none" stroke="#202020" stroke-width="1.05"/>
<ellipse cx="243.00" cy="576.00" rx="2.0" ry="2.5" fill="none" stroke="#202020" stroke-width="1.05"/>
<ellipse cx="264.00" cy="577.50" rx="2.0" ry="2.5" fill="none" stroke="#202020" stroke-width="1.05"/>
<ellipse cx="215.00" cy="579.00" rx="2.0" ry="2.5" fill="none" stroke="#202020" stroke-width="1.05"/>
<ellipse cx="210.00" cy="582.50" rx="2.0" ry="2.5" fill="none" stroke="#202020" stroke-width="1.05"/>
<ellipse cx="224.50" cy="579.50" rx="2.0" ry="2.5" fill="none" stroke="#202020" stroke-width="1.05"/>
<ellipse cx="234.50" cy="579.50" rx="2.0" ry="2.5" fill="none" stroke="#202020" stroke-width="1.05"/>
<ellipse cx="236.00" cy="582.50" rx="2.0" ry="2.5" fill="none" stroke="#202020" stroke-width="1.05"/>
<ellipse cx="243.00" cy="582.50" rx="2.0" ry="2.5" fill="none" stroke="#202020" stroke-width="1.05"/>
<ellipse cx="256.00" cy="582.50" rx="2.0" ry="2.5" fill="none" stroke="#202020" stroke-width="1.05"/>
<ellipse cx="297.50" cy="585.50" rx="2.0" ry="2.5" fill="none" stroke="#202020" stroke-width="1.05"/>
<ellipse cx="343.00" cy="480.00" rx="2.0" ry="2.5" fill="none" stroke="#202020" stroke-width="1.05"/>
<ellipse cx="400.00" cy="541.50" rx="2.0" ry="2.5" fill="none" stroke="#202020" stroke-width="1.05"/>
<ellipse cx="483.50" cy="536.00" rx="2.0" ry="2.5" fill="none" stroke="#202020" stroke-width="1.05"/>
<ellipse cx="232.00" cy="409.00" rx="2.0" ry="2.5" fill="none" stroke="#202020" stroke-width="1.05"/>
<ellipse cx="225.00" cy="418.00" rx="2.0" ry="2.5" fill="none" stroke="#202020" stroke-width="1.05"/>
<ellipse cx="185.20" cy="597.10" rx="2.0" ry="2.5" fill="none" stroke="#202020" stroke-width="1.05"/>
<ellipse cx="97.20" cy="658.30" rx="2.0" ry="2.5" fill="none" stroke="#202020" stroke-width="1.05"/>
<ellipse cx="96.30" cy="664.60" rx="2.0" ry="2.5" fill="none" stroke="#202020" stroke-width="1.05"/>
<ellipse cx="99.60" cy="667.30" rx="2.0" ry="2.5" fill="none" stroke="#202020" stroke-width="1.05"/>
<ellipse cx="122.30" cy="656.70" rx="2.0" ry="2.5" fill="none" stroke="#202020" stroke-width="1.05"/>
<rect x="66.70" y="791.40" width="449.80" height="299.60" fill="none" stroke="#2e2e2e" stroke-width="1.25"/>
<text x="1.00" y="804.00" font-family="'Liberation Sans', sans-serif" font-size="25" font-weight="bold" text-anchor="start" letter-spacing="0" fill="#111" >C</text>
<text x="35.80" y="797.50" font-family="'Liberation Serif', serif" font-size="17.5" font-weight="normal" textLength="17.80" lengthAdjust="spacingAndGlyphs" fill="#111" stroke="#111" stroke-width="0.18">35</text>
<text x="35.80" y="838.60" font-family="'Liberation Serif', serif" font-size="17.5" font-weight="normal" textLength="17.80" lengthAdjust="spacingAndGlyphs" fill="#111" stroke="#111" stroke-width="0.18">30</text>
<text x="35.80" y="877.90" font-family="'Liberation Serif', serif" font-size="17.5" font-weight="normal" textLength="17.80" lengthAdjust="spacingAndGlyphs" fill="#111" stroke="#111" stroke-width="0.18">25</text>
<text x="35.80" y="917.60" font-family="'Liberation Serif', serif" font-size="17.5" font-weight="normal" textLength="17.80" lengthAdjust="spacingAndGlyphs" fill="#111" stroke="#111" stroke-width="0.18">20</text>
<text x="35.80" y="957.80" font-family="'Liberation Serif', serif" font-size="17.5" font-weight="normal" textLength="17.80" lengthAdjust="spacingAndGlyphs" fill="#111" stroke="#111" stroke-width="0.18">15</text>
<text x="35.80" y="998.60" font-family="'Liberation Serif', serif" font-size="17.5" font-weight="normal" textLength="17.80" lengthAdjust="spacingAndGlyphs" fill="#111" stroke="#111" stroke-width="0.18">10</text>
<text x="40.20" y="1038.90" font-family="'Liberation Serif', serif" font-size="17.5" font-weight="normal" textLength="8.80" lengthAdjust="spacingAndGlyphs" fill="#111" stroke="#111" stroke-width="0.18">5</text>
<text x="40.20" y="1080.60" font-family="'Liberation Serif', serif" font-size="17.5" font-weight="normal" textLength="8.80" lengthAdjust="spacingAndGlyphs" fill="#111" stroke="#111" stroke-width="0.18">0</text>
<line x1="66.70" y1="1082.50" x2="68.50" y2="1082.50" stroke="#202020" stroke-width="1"/>
<line x1="514.70" y1="1082.50" x2="516.50" y2="1082.50" stroke="#202020" stroke-width="1"/>
<line x1="66.70" y1="1041.50" x2="68.50" y2="1041.50" stroke="#202020" stroke-width="1"/>
<line x1="514.70" y1="1041.50" x2="516.50" y2="1041.50" stroke="#202020" stroke-width="1"/>
<line x1="66.70" y1="999.50" x2="68.50" y2="999.50" stroke="#202020" stroke-width="1"/>
<line x1="514.70" y1="999.50" x2="516.50" y2="999.50" stroke="#202020" stroke-width="1"/>
<line x1="66.70" y1="958.50" x2="68.50" y2="958.50" stroke="#202020" stroke-width="1"/>
<line x1="514.70" y1="958.50" x2="516.50" y2="958.50" stroke="#202020" stroke-width="1"/>
<line x1="66.70" y1="916.50" x2="68.50" y2="916.50" stroke="#202020" stroke-width="1"/>
<line x1="514.70" y1="916.50" x2="516.50" y2="916.50" stroke="#202020" stroke-width="1"/>
<line x1="66.70" y1="875.50" x2="68.50" y2="875.50" stroke="#202020" stroke-width="1"/>
<line x1="514.70" y1="875.50" x2="516.50" y2="875.50" stroke="#202020" stroke-width="1"/>
<line x1="66.70" y1="833.50" x2="68.50" y2="833.50" stroke="#202020" stroke-width="1"/>
<line x1="514.70" y1="833.50" x2="516.50" y2="833.50" stroke="#202020" stroke-width="1"/>
<text transform="translate(16.80,1017.20) rotate(-90)" font-family="'Liberation Serif', serif" font-size="20.6" font-weight="bold" textLength="63.60" lengthAdjust="spacingAndGlyphs" fill="#111">CD40L</text>
<text transform="translate(16.80,951.00) rotate(-90)" font-family="'Liberation Serif', serif" font-size="20.6" font-weight="bold" textLength="73.90" lengthAdjust="spacingAndGlyphs" fill="#111">(ng/mL)</text>
<line x1="217.50" y1="1089.00" x2="217.50" y2="1091.00" stroke="#202020" stroke-width="1"/>
<line x1="217.50" y1="791.40" x2="217.50" y2="793.40" stroke="#202020" stroke-width="1"/>
<line x1="366.50" y1="1089.00" x2="366.50" y2="1091.00" stroke="#202020" stroke-width="1"/>
<line x1="366.50" y1="791.40" x2="366.50" y2="793.40" stroke="#202020" stroke-width="1"/>
<line x1="101.50" y1="1077.00" x2="101.50" y2="1077.50" stroke="#202020" stroke-width="1.15"/>
<line x1="101.50" y1="1081.60" x2="101.50" y2="1083.75" stroke="#202020" stroke-width="1.15"/>
<line x1="88.50" y1="1077.50" x2="113.00" y2="1077.50" stroke="#202020" stroke-width="1.15"/>
<line x1="88.50" y1="1083.50" x2="113.00" y2="1083.50" stroke="#202020" stroke-width="1.15"/>
<rect x="82.50" y="1077.50" width="37.00" height="4.00" fill="#fff" stroke="#202020" stroke-width="1.15"/>
<rect x="96.50" y="1075.50" width="10.00" height="11.00" fill="#fff" stroke="#202020" stroke-width="1"/>
<line x1="141.50" y1="1049.00" x2="141.50" y2="1054.80" stroke="#202020" stroke-width="1.15"/>
<line x1="141.50" y1="1065.50" x2="141.50" y2="1067.70" stroke="#202020" stroke-width="1.15"/>
<line x1="130.00" y1="1049.50" x2="151.70" y2="1049.50" stroke="#202020" stroke-width="1.15"/>
<line x1="130.00" y1="1067.50" x2="151.70" y2="1067.50" stroke="#202020" stroke-width="1.15"/>
<rect x="122.50" y="1054.50" width="37.00" height="11.00" fill="#0a0a0a" stroke="#202020" stroke-width="1.15"/>
<polygon points="141.6,1056.8 146.79999999999998,1067 136.4,1067" fill="#fff" stroke="#111" stroke-width="0.7"/>
<line x1="181.50" y1="999.00" x2="181.50" y2="1032.50" stroke="#202020" stroke-width="1.15"/>
<line x1="181.50" y1="1056.50" x2="181.50" y2="1060.00" stroke="#202020" stroke-width="1.15"/>
<line x1="169.40" y1="999.50" x2="193.00" y2="999.50" stroke="#202020" stroke-width="1.15"/>
<line x1="169.40" y1="1060.50" x2="193.00" y2="1060.50" stroke="#202020" stroke-width="1.15"/>
<rect x="162.50" y="1032.50" width="38.00" height="24.00" fill="#fff" stroke="#202020" stroke-width="1.2"/>
<rect x="166.80" y="1032.50" width="4.00" height="24.00" fill="#0a0a0a"/>
<rect x="175.50" y="1032.50" width="4.10" height="24.00" fill="#0a0a0a"/>
<rect x="184.20" y="1032.50" width="4.10" height="24.00" fill="#0a0a0a"/>
<rect x="193.10" y="1032.50" width="5.00" height="24.00" fill="#0a0a0a"/>
<polygon points="176.9,1053.75 181.3,1048.15 185.70000000000002,1053.75 181.3,1059.35" fill="#fff" stroke="#222" stroke-width="0.6"/>
<line x1="252.50" y1="1040.60" x2="252.50" y2="1048.30" stroke="#202020" stroke-width="1.15"/>
<line x1="252.50" y1="1081.00" x2="252.50" y2="1082.50" stroke="#202020" stroke-width="1.15"/>
<line x1="240.00" y1="1040.50" x2="262.70" y2="1040.50" stroke="#202020" stroke-width="1.15"/>
<line x1="240.00" y1="1082.50" x2="262.70" y2="1082.50" stroke="#202020" stroke-width="1.15"/>
<rect x="232.50" y="1048.50" width="38.00" height="33.00" fill="#fff" stroke="#202020" stroke-width="1.15"/>
<rect x="246.50" y="1068.50" width="11.00" height="11.00" fill="#fff" stroke="#202020" stroke-width="1"/>
<line x1="291.50" y1="990.00" x2="291.50" y2="1016.00" stroke="#202020" stroke-width="1.15"/>
<line x1="291.50" y1="1039.40" x2="291.50" y2="1057.00" stroke="#202020" stroke-width="1.15"/>
<line x1="279.60" y1="990.50" x2="302.00" y2="990.50" stroke="#202020" stroke-width="1.15"/>
<line x1="279.60" y1="1057.50" x2="302.00" y2="1057.50" stroke="#202020" stroke-width="1.15"/>
<rect x="273.50" y="1016.50" width="35.00" height="23.00" fill="#0a0a0a" stroke="#202020" stroke-width="1.15"/>
<polygon points="292.2,1036.3 296.5,1044.6 287.9,1044.6" fill="#fff" stroke="#202020" stroke-width="0.7"/>
<ellipse cx="292.80" cy="948.60" rx="2.2" ry="2.4" fill="none" stroke="#202020" stroke-width="1.1"/>
<line x1="332.50" y1="916.00" x2="332.50" y2="949.00" stroke="#202020" stroke-width="1.15"/>
<line x1="332.50" y1="997.50" x2="332.50" y2="1023.75" stroke="#202020" stroke-width="1.15"/>
<line x1="320.25" y1="916.50" x2="342.50" y2="916.50" stroke="#202020" stroke-width="1.15"/>
<line x1="320.25" y1="1023.50" x2="342.50" y2="1023.50" stroke="#202020" stroke-width="1.15"/>
<rect x="312.50" y="949.50" width="39.00" height="48.00" fill="#fff" stroke="#202020" stroke-width="1.2"/>
<rect x="316.25" y="949.00" width="3.75" height="48.50" fill="#0a0a0a"/>
<rect x="325.00" y="949.00" width="4.40" height="48.50" fill="#0a0a0a"/>
<rect x="334.00" y="949.00" width="4.10" height="48.50" fill="#0a0a0a"/>
<rect x="343.10" y="949.00" width="3.80" height="48.50" fill="#0a0a0a"/>
<polygon points="327.5,973.75 331.9,968.15 336.29999999999995,973.75 331.9,979.35" fill="#fff" stroke="#222" stroke-width="0.6"/>
<line x1="402.50" y1="1073.50" x2="402.50" y2="1073.50" stroke="#202020" stroke-width="1.15"/>
<line x1="402.50" y1="1081.00" x2="402.50" y2="1083.00" stroke="#202020" stroke-width="1.15"/>
<line x1="389.00" y1="1073.50" x2="414.00" y2="1073.50" stroke="#202020" stroke-width="1.15"/>
<line x1="389.00" y1="1083.50" x2="414.00" y2="1083.50" stroke="#202020" stroke-width="1.15"/>
<rect x="382.50" y="1073.50" width="36.00" height="8.00" fill="#fff" stroke="#202020" stroke-width="1.15"/>
<rect x="397.50" y="1077.50" width="11.00" height="10.00" fill="#fff" stroke="#202020" stroke-width="1"/>
<ellipse cx="402.00" cy="1028.30" rx="2.3" ry="2.4" fill="none" stroke="#202020" stroke-width="1.1"/>
<ellipse cx="402.00" cy="1049.80" rx="2.3" ry="2.4" fill="none" stroke="#202020" stroke-width="1.1"/>
<line x1="441.50" y1="940.60" x2="441.50" y2="983.00" stroke="#202020" stroke-width="1.15"/>
<line x1="441.50" y1="1023.00" x2="441.50" y2="1033.00" stroke="#202020" stroke-width="1.15"/>
<line x1="430.00" y1="940.50" x2="452.30" y2="940.50" stroke="#202020" stroke-width="1.15"/>
<line x1="430.00" y1="1033.50" x2="452.30" y2="1033.50" stroke="#202020" stroke-width="1.15"/>
<rect x="423.50" y="983.50" width="36.00" height="40.00" fill="#0a0a0a" stroke="#202020" stroke-width="1.15"/>
<polygon points="441.5,994.8 445.5,1003.7 437.5,1003.7" fill="#fff" stroke="none" stroke-width="0.7"/>
<ellipse cx="441.50" cy="907.70" rx="2.2" ry="2.2" fill="none" stroke="#202020" stroke-width="1.0"/>
<ellipse cx="441.50" cy="911.90" rx="2.2" ry="2.2" fill="none" stroke="#202020" stroke-width="1.0"/>
<line x1="481.50" y1="891.50" x2="481.50" y2="907.00" stroke="#202020" stroke-width="1.15"/>
<line x1="481.50" y1="922.00" x2="481.50" y2="941.00" stroke="#202020" stroke-width="1.15"/>
<line x1="469.60" y1="891.50" x2="492.40" y2="891.50" stroke="#202020" stroke-width="1.15"/>
<line x1="469.60" y1="941.50" x2="492.40" y2="941.50" stroke="#202020" stroke-width="1.15"/>
<rect x="462.50" y="907.50" width="37.00" height="15.00" fill="#fff" stroke="#202020" stroke-width="1.2"/>
<rect x="466.30" y="907.00" width="3.90" height="15.00" fill="#0a0a0a"/>
<rect x="475.10" y="907.00" width="4.30" height="15.00" fill="#0a0a0a"/>
<rect x="483.30" y="907.00" width="4.20" height="15.00" fill="#0a0a0a"/>
<rect x="492.40" y="907.00" width="3.90" height="15.00" fill="#0a0a0a"/>
<polygon points="477.59999999999997,921.2 481.9,916.1 486.2,921.2 481.9,926.3000000000001" fill="#fff" stroke="#222" stroke-width="0.6"/>
<ellipse cx="482.50" cy="833.80" rx="2.3" ry="2.4" fill="none" stroke="#202020" stroke-width="1.1"/>
<ellipse cx="482.50" cy="983.00" rx="2.3" ry="2.4" fill="none" stroke="#202020" stroke-width="1.1"/>
<text x="103.20" y="1114.00" font-family="'Liberation Serif', serif" font-size="19.5" font-weight="normal" textLength="57.30" lengthAdjust="spacingAndGlyphs" fill="#111" stroke="#111" stroke-width="0.3">Control</text>
<text x="274.60" y="1114.00" font-family="'Liberation Serif', serif" font-size="19.5" font-weight="normal" textLength="23.40" lengthAdjust="spacingAndGlyphs" fill="#111" stroke="#111" stroke-width="0.3">RT</text>
<text x="426.60" y="1114.00" font-family="'Liberation Serif', serif" font-size="19.5" font-weight="normal" textLength="23.10" lengthAdjust="spacingAndGlyphs" fill="#111" stroke="#111" stroke-width="0.3">ET</text>
</svg>
</body></html>
